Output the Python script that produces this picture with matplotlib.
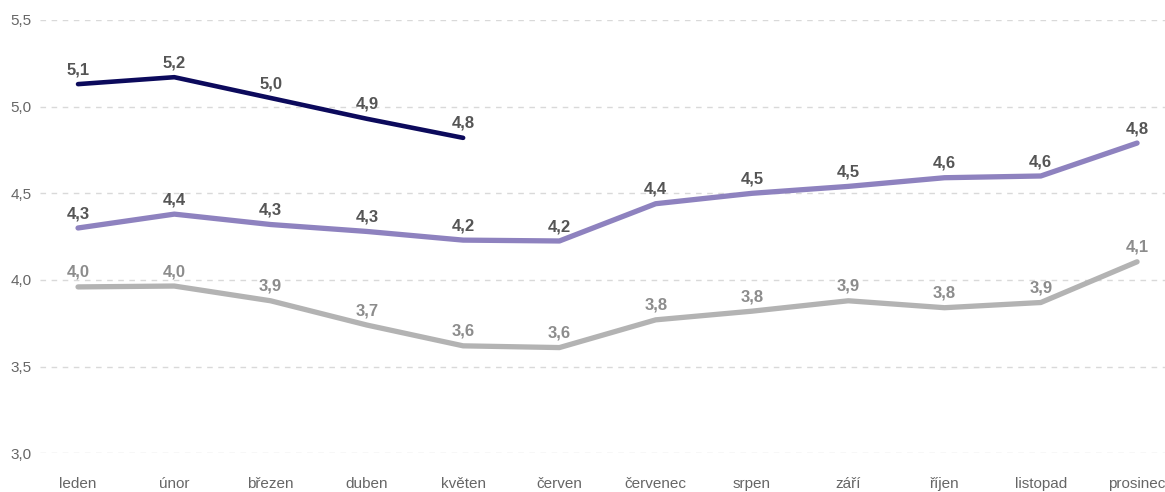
import matplotlib
matplotlib.use("Agg")
import matplotlib.pyplot as plt
from matplotlib.ticker import FixedLocator, FuncFormatter

months = ["leden", "únor", "březen", "duben", "květen", "červen", "červenec",
          "srpen", "září", "říjen", "listopad", "prosinec"]
series_dark = [5.13, 5.17, 5.05, 4.93, 4.82]
series_purple = [4.30, 4.38, 4.32, 4.28, 4.23, 4.225, 4.44, 4.50, 4.54, 4.59, 4.60, 4.79]
series_gray = [3.96, 3.965, 3.88, 3.74, 3.62, 3.61, 3.77, 3.82, 3.88, 3.84, 3.87, 4.105]
y_ticks = [3.0, 3.5, 4.0, 4.5, 5.0, 5.5]

plt.rcParams['font.family'] = ['Liberation Sans', 'DejaVu Sans']

fig = plt.figure(figsize=(11.65, 4.92), dpi=100)
ax = fig.add_axes([40/1165, 1-453.3/492, 1-40/1165, (453.3-20)/492])

styles = [
    (series_gray, "#b3b3b3", 3.8, "#8c8c8c"),
    (series_purple, "#8e82bf", 3.8, "#555555"),
    (series_dark, "#0c0a5c", 3.3, "#555555"),
]
for vals, col, lw, tcol in styles:
    x = list(range(len(vals)))
    ax.plot(x, vals, color=col, lw=lw, solid_capstyle="round",
            solid_joinstyle="round", zorder=3)
    for xi, v in zip(x, vals):
        ax.annotate(f"{v:.1f}".replace(".", ","), (xi, v), xytext=(0, 5),
                    textcoords="offset points", ha="center", va="bottom",
                    fontsize=12, fontweight="bold", color=tcol, zorder=4)

ax.set_xlim(-0.395, 11.29)
ax.set_ylim(3.0, 5.5)
ax.yaxis.set_major_locator(FixedLocator(y_ticks))
ax.yaxis.set_major_formatter(FuncFormatter(lambda v, p: f"{v:.1f}".replace(".", ",")))
ax.set_xticks(range(len(months)))
ax.set_xticklabels(months)
ax.grid(axis="y", color="#d9d9d9", linestyle=(0, (4, 4)), linewidth=1, zorder=0)
ax.set_axisbelow(True)
for s in ax.spines.values():
    s.set_visible(False)
ax.tick_params(axis="both", length=0, labelsize=11, labelcolor="#666666")
ax.tick_params(axis="y", pad=6)
ax.tick_params(axis="x", pad=17)
ax.patch.set_alpha(0)
fig.savefig("out.png", dpi=100)
